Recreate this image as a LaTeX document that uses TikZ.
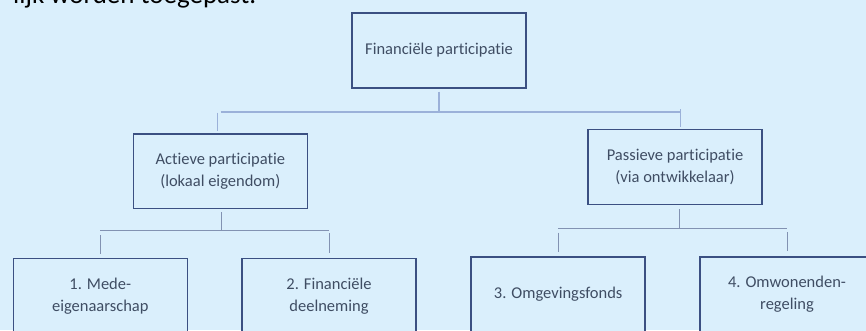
\documentclass[tikz,border=0pt]{standalone}
\usepackage{fontspec}
\setmainfont{Carlito}[Ligatures=NoCommon]
\definecolor{bg}{HTML}{DAEFFC}
\definecolor{boxline}{HTML}{3B5082}
\definecolor{txt}{HTML}{3F4D63}
\definecolor{connA}{HTML}{9BB1D9}
\definecolor{connB}{HTML}{8292B2}
\begin{document}
\begin{tikzpicture}[x=1pt,y=-1pt,
  box/.style={draw=boxline, line width=1.6pt, fill=bg, minimum width=174pt, minimum height=75pt,
    inner sep=0pt, align=center, text=txt, font=\fontsize{16.5}{21.8}\selectfont},
  connone/.style={draw=connA, line width=1.1pt},
  conntwo/.style={draw=connB, line width=1pt}]
\useasboundingbox (0,0) rectangle (866,330);
\clip (0,0) rectangle (866,330);
\fill[bg] (0,0) rectangle (866,330);
\node[anchor=base west, inner sep=0pt, text=black, font=\fontsize{27}{32}\selectfont] (intro) at (13,3.5) {lijk worden toegepast.};

\node[box] (top) at (439,50.2) {Financiële participatie};
\node[box, minimum height=74.6pt] (act) at (220.3,171) {Actieve participatie\\(lokaal eigendom)};
\node[box, minimum height=75pt] (pas) at (675,166.8) {Passieve participatie\\(via ontwikkelaar)};
\node[box] (c1) at (100.3,295.8) {1. Mede-\\eigenaarschap};
\node[box] (c2) at (329,295.8) {2. Financiële\\deelneming};
\node[box] (c3) at (558.2,294.2) {3. Omgevingsfonds};
\node[box] (c4) at (787,294.2) {4. Omwonenden-\\regeling};

% level 1
\coordinate (busAl) at (220.7,112);
\coordinate (busAr) at (680.7,112);
\draw[connone] ([yshift=-3pt]top.south) -- (top.south |- busAl);
\draw[connone] (busAl) -- (busAr);
\draw[connone] (217.7,112.7) coordinate (sa) -- ([yshift=2pt]sa |- act.north);
\draw[connone] (busAr) ++(0,-3) coordinate (sp) -- ([xshift=5.7pt,yshift=1.3pt]pas.north);

% level 2 left
\coordinate (busBl) at (100,230.3);
\coordinate (busBr) at (329.3,230.3);
\draw[conntwo] ([xshift=1.4pt,yshift=-3pt]act.south) -- ([xshift=1.4pt]act.south |- busBl);
\draw[conntwo] (busBl) -- (busBr);
\draw[conntwo] ([yshift=-4.7pt]c1.north |- busBl) -- ([yshift=4pt]c1.north);
\draw[conntwo] ([yshift=-3pt]c2.north |- busBr) -- ([yshift=5pt]c2.north);

% level 2 right
\coordinate (busCl) at (558.3,228);
\coordinate (busCr) at (787.3,228);
\draw[conntwo] ([xshift=4.3pt,yshift=-4pt]pas.south) -- ([xshift=4.3pt]pas.south |- busCl);
\draw[conntwo] (busCl) -- (busCr);
\draw[conntwo] ([yshift=-4.7pt]c3.north |- busCl) -- ([yshift=4pt]c3.north);
\draw[conntwo] ([xshift=0.7pt,yshift=-4pt]c4.north |- busCr) -- ([xshift=0.7pt,yshift=5pt]c4.north);
\end{tikzpicture}
\end{document}
